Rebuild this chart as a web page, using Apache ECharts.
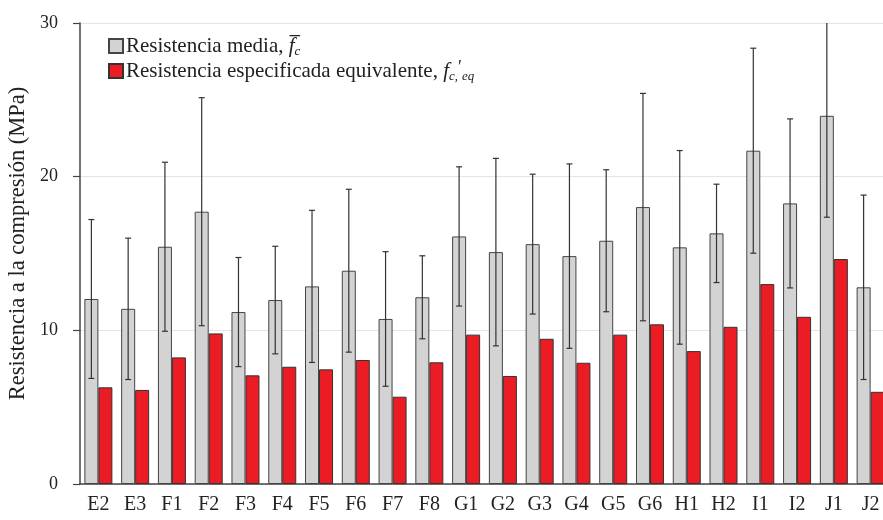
<!DOCTYPE html>
<html>
<head>
<meta charset="utf-8">
<script src="https://cdn.jsdelivr.net/npm/echarts@6/dist/echarts.min.js"></script>
<style>
  html, body { margin: 0; padding: 0; background: #fff; }
  #chart { width: 883px; height: 520px; }
</style>
</head>
<body>
<div id="chart"></div>
<script>
// Specimen groups
const categories = ['E2','E3','F1','F2','F3','F4','F5','F6','F7','F8','G1','G2','G3','G4','G5','G6','H1','H2','I1','I2','J1','J2'];
// Mean compressive strength (MPa)
const meanStrength = [12.04,11.4,15.44,17.72,11.19,11.97,12.86,13.88,10.74,12.15,16.11,15.09,15.61,14.83,15.83,18.02,15.4,16.31,21.69,18.26,23.96,12.8];
// Standard deviation of the mean strength (MPa)
const stdDev = [5.17,4.6,5.5,7.42,3.55,3.5,4.95,5.3,4.38,2.7,4.53,6.1,4.55,6.0,4.62,7.4,6.3,3.2,6.67,5.5,6.6,6.0];
// Equivalent specified strength (MPa)
const equivStrength = [6.29,6.12,8.24,9.8,7.07,7.63,7.46,8.07,5.68,7.92,9.72,7.03,9.45,7.89,9.72,10.39,8.65,10.23,13.01,10.88,14.64,6.0];
// Y axis ticks
const yTicks = [0, 10, 20, 30];

const BAR_W = 14;
const serif = '"Liberation Serif", "DejaVu Serif", serif';

const errData = categories.map((c, i) => [i, meanStrength[i] - stdDev[i], meanStrength[i] + stdDev[i]]);

const chart = echarts.init(document.getElementById('chart'), null, { renderer: 'canvas' });

chart.setOption({
  animation: false,
  backgroundColor: '#ffffff',
  grid: { left: 80, right: -6, top: 23, bottom: 36, containLabel: false, outerBoundsMode: 'none' },
  legend: {
    orient: 'vertical',
    left: 103,
    top: 29,
    itemWidth: 14,
    itemHeight: 14,
    itemGap: 1,
    icon: 'rect',
    data: ['mean', 'equiv'],
    formatter: function (name) {
      return name === 'mean'
        ? 'Resistencia media, {it|f\u0305}{sub|c}'
        : 'Resistencia especificada equivalente, {it|f}{sub|c,}{pr|\u2032}{sub|eq}';
    },
    textStyle: {
      fontFamily: serif,
      fontSize: 21,
      color: '#222',
      lineHeight: 24,
      padding: [0, 0, 0, -2],
      rich: {
        it: { fontFamily: serif, fontStyle: 'italic', fontSize: 21, color: '#222', lineHeight: 24 },
        sub: { fontFamily: serif, fontStyle: 'italic', fontSize: 13, color: '#222', verticalAlign: 'bottom', lineHeight: 18 },
        pr: { fontFamily: serif, fontSize: 18, color: '#222', verticalAlign: 'top', lineHeight: 24 }
      }
    }
  },
  xAxis: {
    type: 'category',
    data: categories,
    axisLine: { lineStyle: { color: '#444', width: 1.5 } },
    axisTick: { show: false },
    axisLabel: { fontFamily: serif, fontSize: 20, color: '#222', margin: 11, interval: 0 },
    splitLine: { show: false }
  },
  yAxis: {
    type: 'value',
    min: yTicks[0],
    max: yTicks[yTicks.length - 1],
    interval: 10,
    name: 'Resistencia a la compresión (MPa)',
    nameLocation: 'middle',
    nameGap: 46,
    nameTextStyle: { fontFamily: serif, fontSize: 22.5, color: '#222', padding: [0, 0, 0, 20] },
    axisLine: { show: true, lineStyle: { color: '#444', width: 1.5 } },
    axisTick: { show: true, inside: false, length: 7, lineStyle: { color: '#444', width: 1.2 } },
    axisLabel: { fontFamily: serif, fontSize: 18, color: '#222', margin: 22 },
    splitLine: { show: true, lineStyle: { color: '#e4e4e4', width: 1 } }
  },
  series: [
    {
      name: 'mean',
      type: 'bar',
      data: meanStrength,
      barWidth: BAR_W,
      barGap: '0%',
      itemStyle: { color: '#d3d3d3', borderColor: '#444', borderWidth: 1 }
    },
    {
      name: 'equiv',
      type: 'bar',
      data: equivStrength,
      barWidth: BAR_W,
      barGap: '0%',
      itemStyle: { color: '#ec1c24', borderColor: '#333', borderWidth: 1 }
    },
    {
      name: 'sd',
      type: 'custom',
      clip: true,
      z: 5,
      data: errData,
      encode: { x: 0, y: [1, 2] },
      renderItem: function (params, api) {
        const i = api.value(0);
        const lo = api.coord([i, api.value(1)]);
        const hi = api.coord([i, api.value(2)]);
        const x = lo[0] - BAR_W / 2;
        const cap = 3;
        const style = { stroke: '#333', lineWidth: 1.2 };
        return {
          type: 'group',
          children: [
            { type: 'line', shape: { x1: x, y1: lo[1], x2: x, y2: hi[1] }, style: style },
            { type: 'line', shape: { x1: x - cap, y1: lo[1], x2: x + cap, y2: lo[1] }, style: style },
            { type: 'line', shape: { x1: x - cap, y1: hi[1], x2: x + cap, y2: hi[1] }, style: style }
          ]
        };
      }
    }
  ]
});
</script>
</body>
</html>
